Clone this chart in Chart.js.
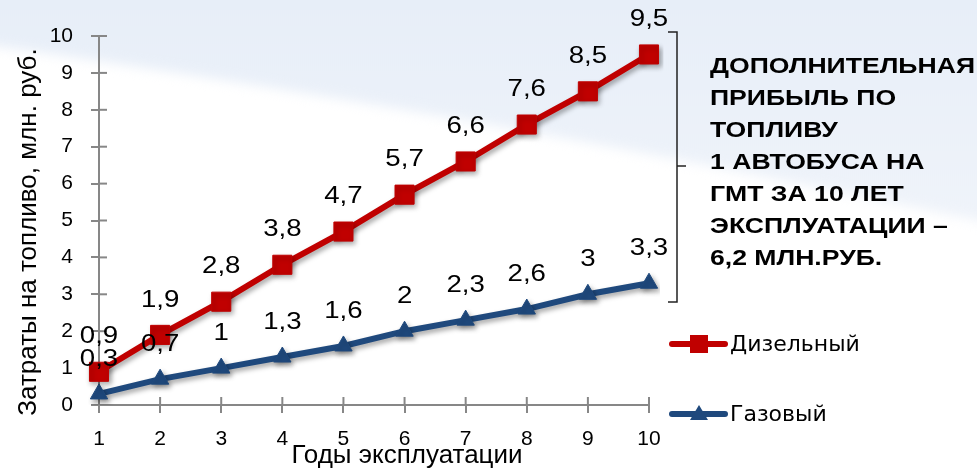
<!DOCTYPE html>
<html><head><meta charset="utf-8">
<script src="https://cdn.jsdelivr.net/npm/chart.js@4/dist/chart.umd.min.js"></script>
<style>html,body{margin:0;padding:0;background:#fff;overflow:hidden}#wrap{width:977px;height:471px;position:relative}</style>
</head><body><div id="wrap"><canvas id="c" width="977" height="471"></canvas></div>
<script>
const years = ['1','2','3','4','5','6','7','8','9','10'];
const dieselCost = [0.9,1.9,2.8,3.8,4.7,5.7,6.6,7.6,8.5,9.5];
const gasCost = [0.3,0.7,1,1.3,1.6,2,2.3,2.6,3,3.3];
const seriesNames = ['Дизельный','Газовый'];
const yAxisTitle = 'Затраты на топливо, млн. руб.';
const xAxisTitle = 'Годы эксплуатации';
const noteLines = ['ДОПОЛНИТЕЛЬНАЯ','ПРИБЫЛЬ ПО','ТОПЛИВУ','1 АВТОБУСА НА','ГМТ ЗА 10 ЛЕТ','ЭКСПЛУАТАЦИИ –','6,2 МЛН.РУБ.'];

const RED = '#C00000', BLUE = '#1F497D', AX = '#878787';
const FONT = "'Liberation Sans', Arial, sans-serif";

const bgPlugin = {
  id: 'bg',
  beforeDraw(chart) {
    const ctx = chart.ctx;
    ctx.save();
    ctx.fillStyle = '#fff';
    ctx.fillRect(0, 0, chart.width, chart.height);
    const g = ctx.createLinearGradient(0, 0, 0, 240);
    g.addColorStop(0, '#E7EEF8');
    g.addColorStop(1, '#F0F4FA');
    ctx.filter = 'blur(6px)';
    ctx.fillStyle = g;
    ctx.beginPath();
    ctx.moveTo(-20, -20); ctx.lineTo(1000, -20); ctx.lineTo(1000, 225);
    ctx.bezierCurveTo(850, 195, 520, 120, -20, 44);
    ctx.closePath(); ctx.fill();
    ctx.restore();
  }
};

const shadowPlugin = {
  id: 'shadow',
  beforeDatasetDraw(chart) {
    const ctx = chart.ctx; ctx.save();
    ctx.shadowColor = 'rgba(0,0,0,0.35)'; ctx.shadowBlur = 5; ctx.shadowOffsetX = 2; ctx.shadowOffsetY = 3;
  },
  afterDatasetDraw(chart) { chart.ctx.restore(); }
};

const crossTicks = {
  id: 'crossTicks',
  beforeDatasetsDraw(chart) {
    const ctx = chart.ctx, xs = chart.scales.x, ys = chart.scales.y, a = chart.chartArea;
    ctx.save(); ctx.strokeStyle = AX; ctx.lineWidth = 2;
    xs.ticks.forEach((t, i) => { const x = xs.getPixelForTick(i); ctx.beginPath(); ctx.moveTo(x, a.bottom); ctx.lineTo(x, a.bottom - 8); ctx.stroke(); });
    ys.ticks.forEach((t, i) => { const y = ys.getPixelForTick(i); ctx.beginPath(); ctx.moveTo(a.left, y); ctx.lineTo(a.left + 8, y); ctx.stroke(); });
    ctx.restore();
  }
};

const labelsPlugin = {
  id: 'vlabels',
  afterDatasetsDraw(chart) {
    const ctx = chart.ctx; ctx.save();
    ctx.font = '24px ' + FONT; ctx.fillStyle = '#000'; ctx.textAlign = 'center'; ctx.textBaseline = 'middle';
    chart.data.datasets.forEach((ds, di) => {
      chart.getDatasetMeta(di).data.forEach((p, i) => {
        ctx.save(); ctx.translate(p.x, p.y - 35); ctx.scale(1.15, 1);
        ctx.fillText(String(ds.data[i]).replace('.', ','), 0, 0);
        ctx.restore();
      });
    });
    ctx.restore();
  }
};

const decorPlugin = {
  id: 'decor',
  afterDraw(chart) {
    const ctx = chart.ctx; ctx.save();
    ctx.fillStyle = '#000'; ctx.font = '26px ' + FONT; ctx.textAlign = 'center'; ctx.textBaseline = 'middle';
    ctx.fillText(xAxisTitle, 407, 456);
    ctx.save(); ctx.translate(29, 232); ctx.rotate(-Math.PI / 2); ctx.fillText(yAxisTitle, 0, 0); ctx.restore();
    ctx.strokeStyle = '#222'; ctx.lineWidth = 1.5;
    ctx.beginPath(); ctx.moveTo(668, 32); ctx.lineTo(677, 32); ctx.lineTo(677, 302); ctx.lineTo(668, 302); ctx.stroke();
    ctx.beginPath(); ctx.moveTo(677, 166); ctx.lineTo(686, 166); ctx.stroke();
    ctx.font = 'bold 22px ' + FONT; ctx.textAlign = 'left'; ctx.textBaseline = 'alphabetic';
    const sx = 265 / ctx.measureText(noteLines[0]).width;
    noteLines.forEach((ln, i) => {
      ctx.save(); ctx.translate(710, 73 + i * 32); ctx.scale(sx, 1); ctx.fillText(ln, 0, 0); ctx.restore();
    });
    const items = [{y: 344, color: RED, shape: 'rect'}, {y: 414, color: BLUE, shape: 'tri'}];
    items.forEach((it, i) => {
      ctx.strokeStyle = it.color; ctx.lineWidth = 6; ctx.lineCap = 'round';
      ctx.beginPath(); ctx.moveTo(672, it.y); ctx.lineTo(725, it.y); ctx.stroke();
      ctx.fillStyle = it.color;
      if (it.shape === 'rect') ctx.fillRect(690, it.y - 9, 18, 18);
      else { ctx.beginPath(); ctx.moveTo(699, it.y - 9); ctx.lineTo(708, it.y + 6); ctx.lineTo(690, it.y + 6); ctx.closePath(); ctx.fill(); }
      ctx.fillStyle = '#000'; ctx.font = "22px 'DejaVu Sans', sans-serif"; ctx.textBaseline = 'middle';
      ctx.fillText(seriesNames[i], 730, it.y + 1);
    });
    ctx.restore();
  }
};

new Chart(document.getElementById('c'), {
  type: 'line',
  data: {
    labels: years,
    datasets: [
      { label: seriesNames[0], data: dieselCost, borderColor: RED, backgroundColor: RED, borderWidth: 6,
        pointStyle: 'rect', pointRadius: 13.5, pointBorderWidth: 1, pointBackgroundColor: RED, pointBorderColor: RED, tension: 0, order: 1 },
      { label: seriesNames[1], data: gasCost, borderColor: BLUE, backgroundColor: BLUE, borderWidth: 6,
        pointStyle: 'triangle', pointRadius: 10, pointBorderWidth: 1, pointBackgroundColor: BLUE, pointBorderColor: BLUE, tension: 0, order: 2 }
    ]
  },
  options: {
    responsive: false, animation: false, devicePixelRatio: 1,
    layout: { padding: { left: 0, right: 328, top: 36, bottom: 0 } },
    plugins: { legend: { display: false }, tooltip: { enabled: false } },
    scales: {
      x: {
        offset: false,
        grid: { drawOnChartArea: false, tickLength: 8, color: AX, lineWidth: 2 },
        border: { color: AX, width: 2 },
        ticks: { color: '#000', font: { family: FONT, size: 21 }, padding: 14, maxRotation: 0, autoSkip: false },
        afterFit(s) { s.height = 66; }
      },
      y: {
        min: 0, max: 10,
        grid: { drawOnChartArea: false, tickLength: 8, color: AX, lineWidth: 2 },
        border: { color: AX, width: 2 },
        ticks: { stepSize: 1, color: '#000', font: { family: FONT, size: 21 }, padding: 18 },
        afterFit(s) { s.width = 99; }
      }
    }
  },
  plugins: [bgPlugin, crossTicks, shadowPlugin, labelsPlugin, decorPlugin]
});
</script></body></html>
